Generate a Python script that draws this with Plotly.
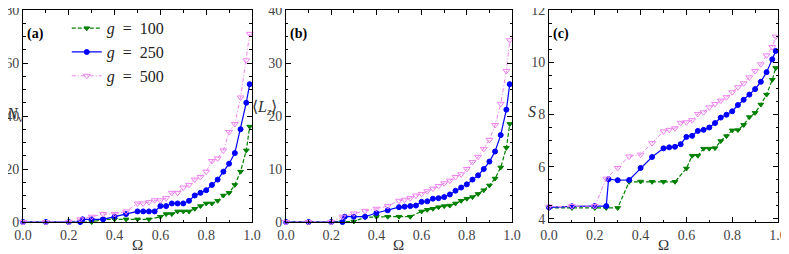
"""Vortex number, angular momentum and entropy versus rotation frequency."""
from plotly import graph_objects as go

# rotation frequency grids (one per interaction strength)
omega_g100 = [0.0, 0.1, 0.2, 0.25, 0.3, 0.35, 0.4, 0.45, 0.5, 0.55, 0.6, 0.625, 0.65,
              0.675, 0.7, 0.725, 0.75, 0.775, 0.8, 0.825, 0.85, 0.875, 0.9, 0.925,
              0.95, 0.975, 0.99]
omega_g250 = [0.0, 0.1, 0.2, 0.25, 0.26, 0.3, 0.35, 0.4, 0.45, 0.5, 0.525, 0.55, 0.575,
              0.6, 0.625, 0.65, 0.675, 0.7, 0.725, 0.75, 0.775, 0.8, 0.825, 0.85,
              0.875, 0.9, 0.925, 0.95, 0.975, 0.99]
omega_g500 = [0.0, 0.1, 0.2, 0.25, 0.3, 0.35, 0.4, 0.45, 0.5, 0.525, 0.55, 0.575, 0.6,
              0.625, 0.65, 0.675, 0.7, 0.725, 0.75, 0.775, 0.8, 0.825, 0.85, 0.875,
              0.9, 0.925, 0.95, 0.975, 0.99]

# (a) number of vortices
nv_g100 = [0, 0, 0, 0, 0, 1, 1, 1, 1, 1, 2, 3, 3, 4, 4, 4, 5, 6, 7, 7, 8, 10, 11,
           14, 19, 27, 36]
nv_g250 = [0, 0, 0, 0, 1, 1, 1, 2, 3, 4, 4, 4, 4, 6, 6, 7, 7, 7, 8, 10, 11, 12, 14,
           16, 19, 22, 26, 35, 45, 52]
nv_g500 = [0, 0, 0, 1, 2, 3, 3, 4, 7, 7, 7.5, 8.2, 8.2, 9, 11, 11, 13, 14, 16, 17,
           19, 23, 24, 27, 34, 37, 47, 61, 71]

# (b) angular momentum per particle
lz_g100 = [0, 0, 0, 0, 0.1, 0.9, 1.0, 1.0, 1.0, 1.0, 2.0, 2.3, 2.5, 2.8, 3.0, 3.1,
           3.5, 4.0, 4.4, 4.7, 5.3, 6.0, 6.9, 8.2, 10.3, 14.0, 18.5]
lz_g250 = [0, 0, 0, 0, 1.0, 1.0, 1.0, 1.7, 2.2, 2.8, 2.9, 3.0, 3.1, 3.8, 3.9, 4.4,
           4.5, 4.7, 5.2, 5.9, 6.5, 7.1, 8.0, 8.8, 10.0, 11.4, 13.3, 16.4, 21.2, 26.0]
lz_g500 = [0, 0, 0, 1.0, 1.6, 2.1, 2.5, 3.0, 4.0, 4.2, 4.5, 5.0, 5.3, 5.8, 6.3,
           6.8, 7.3, 7.8, 8.5, 9.0, 10.0, 11.3, 12.3, 13.8, 15.5, 18.3, 22.3, 28.5,
           34.3]

# (c) entropy
s_g100 = [4.42, 4.42, 4.42, 4.42, 4.42, 5.42, 5.43, 5.42, 5.42, 5.42, 5.93, 6.42,
          6.42, 6.69, 6.69, 6.71, 6.98, 7.17, 7.39, 7.40, 7.60, 7.90, 8.06, 8.38,
          8.76, 9.33, 9.78]
s_g250 = [4.44, 4.48, 4.49, 4.49, 5.52, 5.48, 5.49, 5.95, 6.37, 6.70, 6.74, 6.76,
          6.86, 7.14, 7.18, 7.37, 7.41, 7.50, 7.67, 7.88, 7.99, 8.12, 8.36, 8.56,
          8.76, 8.97, 9.25, 9.62, 10.11, 10.43]
s_g500 = [4.47, 4.49, 4.49, 5.54, 5.95, 6.39, 6.46, 6.90, 7.35, 7.41, 7.47, 7.68,
          7.70, 7.78, 8.02, 8.08, 8.27, 8.40, 8.53, 8.66, 8.85, 9.04, 9.19, 9.42,
          9.66, 9.92, 10.26, 10.58, 10.98]

FONT = "Liberation Serif"
GREEN, BLUE, VIOLET = "#008000", "#0000ff", "#ee82ee"

series = [
    ("<i>g</i>\u2002=\u2002100", omega_g100, [nv_g100, lz_g100, s_g100], GREEN,
     "4px,2px", "triangle-down", 5, 1.2),
    ("<i>g</i>\u2002=\u2002250", omega_g250, [nv_g250, lz_g250, s_g250], BLUE,
     "solid", "circle", 5, 1.2),
    ("<i>g</i>\u2002=\u2002500", omega_g500, [nv_g500, lz_g500, s_g500], VIOLET,
     "4px,2px,1px,2px", "triangle-down-open", 6, 1.0),
]

fig = go.Figure()
for p in range(3):
    xa = "x" if p == 0 else f"x{p + 1}"
    ya = "y" if p == 0 else f"y{p + 1}"
    for name, xs, ys, color, dash, symbol, msize, lw in series:
        fig.add_trace(go.Scatter(
            x=xs, y=ys[p], xaxis=xa, yaxis=ya, name=name, showlegend=(p == 0),
            mode="lines+markers", cliponaxis=False,
            line=dict(color=color, dash=dash, width=lw),
            marker=dict(symbol=symbol, size=msize, color=color,
                        line=dict(color=color, width=1)),
        ))

axis_common = dict(
    showline=True, linecolor="black", linewidth=1, mirror="allticks",
    ticks="inside", ticklen=5, tickcolor="black", showgrid=False, zeroline=False,
    automargin=False, ticklabeloverflow="allow",
    tickfont=dict(family=FONT, size=14, color="#444"),
)
# the page body adds an 8px offset, so the figure is laid out 8px smaller
domains = [[0.0, 0.3033], [0.3483, 0.6477], [0.6967, 1.0]]
yranges = [[0, 80], [0, 40], [3.88, 12]]
ydticks = [20, 10, 2]
yminor = [5, 2.5, 0.5]

layout = {}
for p in range(3):
    sfx = "" if p == 0 else str(p + 1)
    layout[f"xaxis{sfx}"] = dict(
        axis_common, domain=domains[p], range=[0, 1], dtick=0.2, tick0=0,
        tickformat=".1f", anchor=f"y{sfx}",
        minor=dict(dtick=0.1, ticks="inside", ticklen=2.5, tickcolor="black"),
    )
    layout[f"yaxis{sfx}"] = dict(
        axis_common, range=yranges[p], dtick=ydticks[p], tick0=0,
        anchor=f"x{sfx}",
        minor=dict(dtick=yminor[p], ticks="inside", ticklen=2.5, tickcolor="black"),
    )

ann = []
ylabels = ["<i>N</i><sub>v</sub>", "⟨<i>L</i><sub><i>z</i></sub>⟩", "<i>S</i>"]
ylab_pos = [(-0.085, 0.505), (-0.16, 0.54), (-0.1, 0.52)]
panel_tags = ["(a)", "(b)", "(c)"]
for p in range(3):
    sfx = "" if p == 0 else str(p + 1)
    ann.append(dict(text="Ω", xref=f"x{sfx} domain", yref=f"y{sfx} domain",
                    x=0.5, y=-0.11, yanchor="middle", showarrow=False,
                    font=dict(family=FONT, size=15, color="#333")))
    ann.append(dict(text=ylabels[p], xref=f"x{sfx} domain", yref=f"y{sfx} domain",
                    x=ylab_pos[p][0], y=ylab_pos[p][1], showarrow=False,
                    font=dict(family=FONT, size=16, color="#333")))
    ann.append(dict(text=f"<b>{panel_tags[p]}</b>", xref=f"x{sfx} domain",
                    yref=f"y{sfx} domain", x=0.01, y=0.936, xanchor="left",
                    showarrow=False, font=dict(family=FONT, size=14, color="black")))

fig.update_layout(
    **layout,
    annotations=ann,
    width=781, height=246,
    margin=dict(l=15, r=11, t=2, b=32),
    paper_bgcolor="white", plot_bgcolor="white",
    showlegend=True,
    legend=dict(x=0.058, y=0.994, xanchor="left", yanchor="top",
                bgcolor="rgba(0,0,0,0)", itemwidth=30, tracegroupgap=0,
                font=dict(family=FONT, size=16, color="#222")),
)

fig.write_html("out.html")
